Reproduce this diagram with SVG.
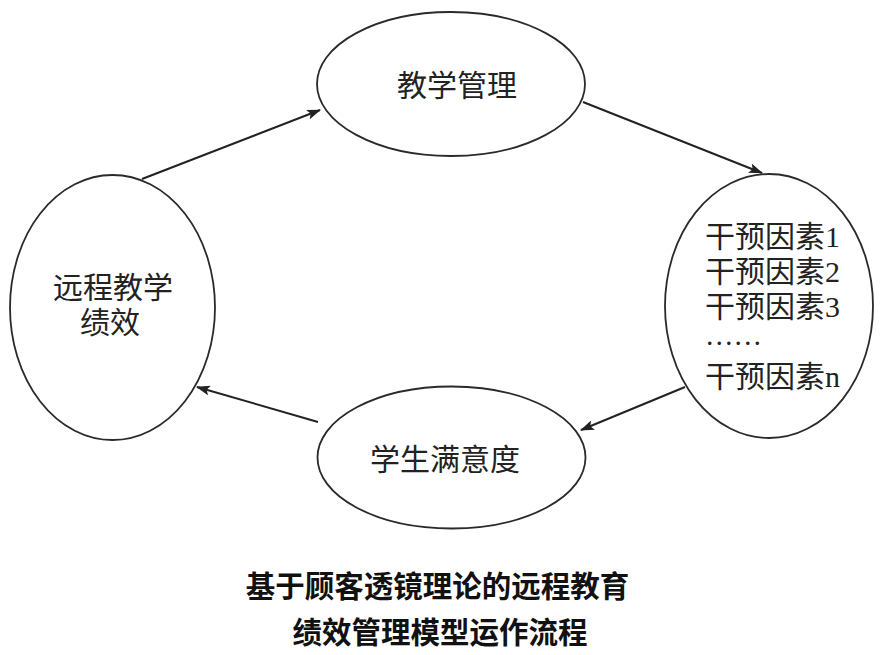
<svg xmlns="http://www.w3.org/2000/svg" width="881" height="655" viewBox="0 0 881 655">
<style>
.node ellipse{fill:#fff;stroke:#2a2a2a;stroke-width:1.8}
.lbl{font-family:"Liberation Serif","Noto Sans CJK SC",serif;font-size:30px;fill:#222}
.conn line{stroke:#222;stroke-width:2}
.cap{font-family:"Noto Sans CJK SC","Liberation Sans",sans-serif;font-size:29.5px;font-weight:bold;fill:#111;text-anchor:middle}
</style>
<defs>
<marker id="ah" viewBox="0 0 14 10" refX="13" refY="5" markerWidth="14" markerHeight="10" markerUnits="userSpaceOnUse" orient="auto">
<path d="M0,0 L14,5 L0,10 L3,5 Z" fill="#222"/>
</marker>
</defs>
<rect width="881" height="655" fill="#fff"/>
<g id="n-teaching-management" class="node">
<ellipse cx="451" cy="84" rx="134" ry="72"/>
<text class="lbl" x="457" y="96" text-anchor="middle">教学管理</text>
</g>
<g id="n-factors" class="node">
<ellipse cx="769" cy="306" rx="104" ry="132"/>
<text class="lbl" x="705" y="247">干预因素1</text>
<text class="lbl" x="705" y="282">干预因素2</text>
<text class="lbl" x="705" y="317">干预因素3</text>
<text class="lbl" x="705" y="345" style="font-size:28.5px">……</text>
<text class="lbl" x="705" y="387">干预因素n</text>
</g>
<g id="n-satisfaction" class="node">
<ellipse cx="451.5" cy="457.5" rx="134" ry="71"/>
<text class="lbl" x="445" y="470" text-anchor="middle">学生满意度</text>
</g>
<g id="n-performance" class="node">
<ellipse cx="112.5" cy="307.5" rx="102.5" ry="132.5"/>
<text class="lbl" x="113" y="298" text-anchor="middle">远程教学</text>
<text class="lbl" x="110" y="333" text-anchor="middle">绩效</text>
</g>
<g id="connectors" class="conn">
<line x1="142" y1="179" x2="320" y2="110" marker-end="url(#ah)"/>
<line x1="583" y1="102" x2="762" y2="173" marker-end="url(#ah)"/>
<line x1="685" y1="387" x2="581" y2="430" marker-end="url(#ah)"/>
<line x1="318" y1="422" x2="197" y2="387" marker-end="url(#ah)"/>
</g>
<g id="caption">
<text class="cap" x="437.5" y="597">基于顾客透镜理论的远程教育</text>
<text class="cap" x="440" y="643">绩效管理模型运作流程</text>
</g>
</svg>
